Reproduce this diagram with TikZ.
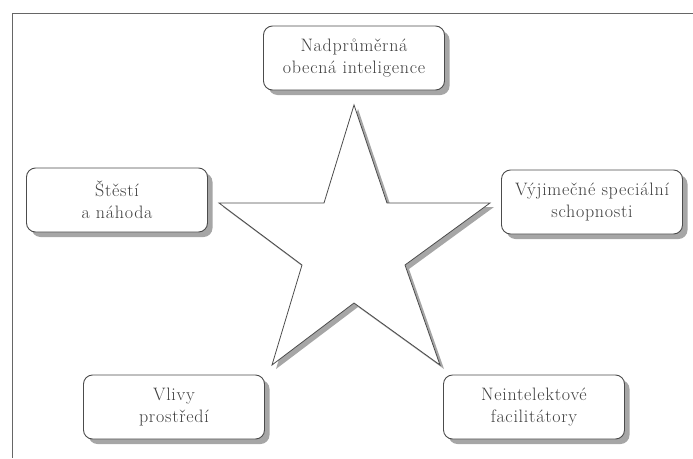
\documentclass[tikz,border=0pt]{standalone}
\usepackage{fontspec}
\setmainfont[LetterSpace=4]{Latin Modern Roman}
\usetikzlibrary{shadows}
\tikzset{
    factor/.style={draw=black!70, line width=0.9pt, fill=white, rounded corners=9pt,
        minimum width=181pt, minimum height=64pt, align=center, text=black!75,
        font=\fontsize{18}{22}\selectfont,
        drop shadow={shadow xshift=5pt, shadow yshift=-5pt, fill=black!35, opacity=1}},
}
\begin{document}
\begin{tikzpicture}[x=1pt, y=-1pt]
    \useasboundingbox (0,0) rectangle (693,458);
    \draw[black!60, line width=1pt] (693,13) -- (12,13) -- (12,458);
    % star
    \coordinate (t) at (354,105); \coordinate (ir) at (387,203); \coordinate (r) at (490,203);
    \coordinate (jr) at (405,265); \coordinate (br) at (440,365); \coordinate (ib) at (354,303);
    \coordinate (bl) at (272,365); \coordinate (jl) at (302,265); \coordinate (l) at (219,203);
    \coordinate (il) at (324,203);
    \filldraw[draw=black!70, fill=white, line width=0.8pt,
        drop shadow={shadow xshift=4pt, shadow yshift=-4pt, fill=black!35, opacity=1}]
        (t) -- (ir) -- (r) -- (jr) -- (br) -- (ib) -- (bl) -- (jl) -- (l) -- (il) -- cycle;
    % factors
    \node[factor] (nad) at (354,58) {Nadprůměrná\\obecná inteligence};
    \node[factor] (ste) at (117,200) {Štěstí\\a náhoda};
    \node[factor] (vyj) at (592,202) {Výjimečné speciální\\schopnosti};
    \node[factor] (vli) at (174,407) {Vlivy\\prostředí};
    \node[factor] (nei) at (534,407) {Neintelektové\\facilitátory};
\end{tikzpicture}
\end{document}
